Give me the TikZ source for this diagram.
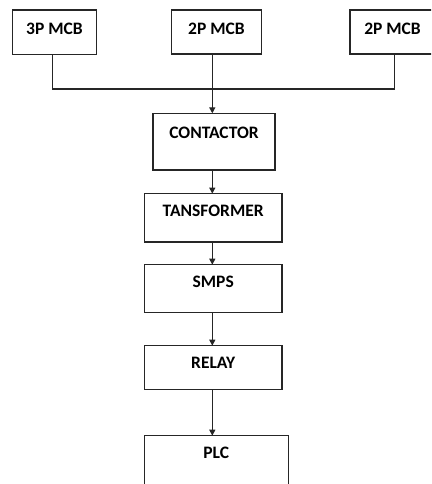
\documentclass[tikz,border=0pt]{standalone}
\usepackage{fontspec}
\setmainfont{Carlito}
\usetikzlibrary{arrows.meta}
\tikzset{
  blk/.style={draw=black!85, line width=1.3pt, rectangle, inner sep=0pt, outer sep=0pt},
  lbl/.style={font=\fontsize{17.5}{20}\selectfont\bfseries, text=black, inner sep=0pt, anchor=center},
  wire/.style={draw=black!85, line width=1.3pt},
  arr/.style={wire, -{Triangle[length=6pt,width=6pt]}}
}
\begin{document}
\begin{tikzpicture}[x=1pt,y=-1pt]
\useasboundingbox (0,0) rectangle (431,484);
\clip (0,0) rectangle (431,484);
% boxes
\node[blk, minimum width=84.4pt, minimum height=44.3pt] (m1) at (54.5,32.2) {};
\node[blk, minimum width=90.4pt, minimum height=44pt] (m2) at (216.5,32) {};
\node[blk, minimum width=85pt, minimum height=44pt] (m3) at (392.5,32) {};
\node[blk, minimum width=122pt, minimum height=56.7pt] (con) at (214,141.7) {};
\node[blk, minimum width=137.7pt, minimum height=48.3pt] (tr) at (213.2,217.8) {};
\node[blk, minimum width=137.7pt, minimum height=48pt] (smps) at (213.2,288.7) {};
\node[blk, minimum width=137.7pt, minimum height=43.6pt] (rel) at (213.2,367.5) {};
\node[blk, minimum width=144pt, minimum height=60pt] (plc) at (216.3,465.7) {};
% labels
\node[lbl] (m1t) at ([yshift=-18.5pt]m1.north) {3P MCB};
\node[lbl] (m2t) at ([yshift=-18.5pt]m2.north) {2P MCB};
\node[lbl] (m3t) at ([yshift=-18.5pt]m3.north) {2P MCB};
\node[lbl] (cont) at ([yshift=-19pt]con.north) {CONTACTOR};
\node[lbl] (trt) at ([yshift=-17.3pt]tr.north) {TANSFORMER};
\node[lbl] (smpst) at ([yshift=-17.3pt]smps.north) {SMPS};
\node[lbl] (relt) at ([yshift=-17pt]rel.north) {RELAY};
\node[lbl] (plct) at ([yshift=-17pt]plc.north) {PLC};
% connectors
\coordinate (sp) at (212.3,0);
\coordinate (bus) at (0,89);
\draw[wire] ([xshift=-1.8pt]m1.south) -- ([xshift=-1.8pt]m1.south |- bus) -- ([xshift=2pt]m3.south |- bus) -- ([xshift=2pt]m3.south);
\draw[arr] (m2.south -| sp) -- (con.north -| sp);
\draw[arr] (con.south -| sp) -- (tr.north -| sp);
\draw[arr] (tr.south -| sp) -- (smps.north -| sp);
\draw[arr] (smps.south -| sp) -- (rel.north -| sp);
\draw[arr] (rel.south -| sp) -- (plc.north -| sp);
\end{tikzpicture}
\end{document}
